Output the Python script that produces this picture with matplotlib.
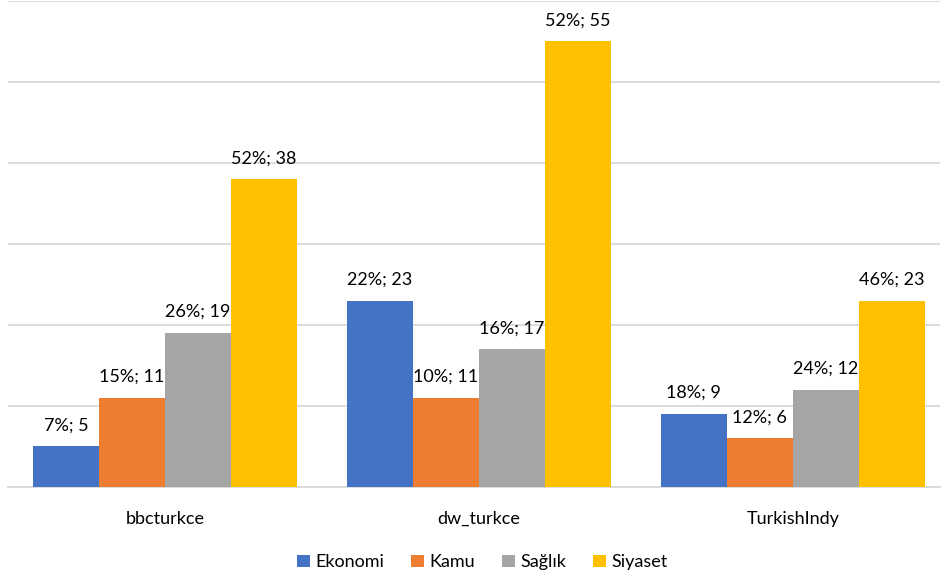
import numpy as np
import matplotlib
matplotlib.use("Agg")
import matplotlib.pyplot as plt

plt.rcParams['font.family'] = ['Lato', 'DejaVu Sans']

# veriler
kaynaklar = ['bbcturkce', 'dw_turkce', 'TurkishIndy']
konular = ['Ekonomi', 'Kamu', 'Sağlık', 'Siyaset']
renkler = ['#4472C4', '#ED7D31', '#A5A5A5', '#FFC000']

ekonomi = [5, 23, 9]
kamu = [11, 11, 6]
saglik = [19, 17, 12]
siyaset = [38, 55, 23]

ekonomi_yuzde = [7, 22, 18]
kamu_yuzde = [15, 10, 12]
saglik_yuzde = [26, 16, 24]
siyaset_yuzde = [52, 52, 46]

seriler = [ekonomi, kamu, saglik, siyaset]
yuzdeler = [ekonomi_yuzde, kamu_yuzde, saglik_yuzde, siyaset_yuzde]

fig = plt.figure(figsize=(9.42, 5.83), dpi=100)
ax = fig.add_axes([0.0085, 0.1647, 0.989, 0.8336])

x = np.arange(len(kaynaklar))
w = 0.21
for i, (vals, pcts) in enumerate(zip(seriler, yuzdeler)):
    pos = x + (i - 1.5) * w
    ax.bar(pos, vals, width=w, color=renkler[i], label=konular[i], zorder=3)
    for p, v, pc in zip(pos, vals, pcts):
        ax.text(p, v + 1.6, f'{pc}%; {v}', ha='center', va='bottom',
                fontsize=13, color='#000000')

ax.set_xlim(-0.5, 2.468)
ax.set_ylim(0, 60)
ax.set_yticks(np.arange(0, 61, 10))
ax.yaxis.grid(True, color='#D9D9D9', linewidth=1.3, zorder=0)
ax.set_yticklabels([])
ax.tick_params(axis='y', length=0)
ax.tick_params(axis='x', length=0, pad=17, labelsize=13)
ax.set_xticks(x)
ax.set_xticklabels(kaynaklar)
for s in ['top', 'right', 'left']:
    ax.spines[s].set_visible(False)
ax.spines['bottom'].set_color('#D9D9D9')
ax.spines['bottom'].set_linewidth(1.3)

ax.legend(loc='upper center', bbox_to_anchor=(0.509, -0.105), ncol=4, frameon=False,
          fontsize=13, handlelength=0.7, handleheight=0.7, handletextpad=0.3,
          columnspacing=1.5)

fig.savefig('out.png', dpi=100)
